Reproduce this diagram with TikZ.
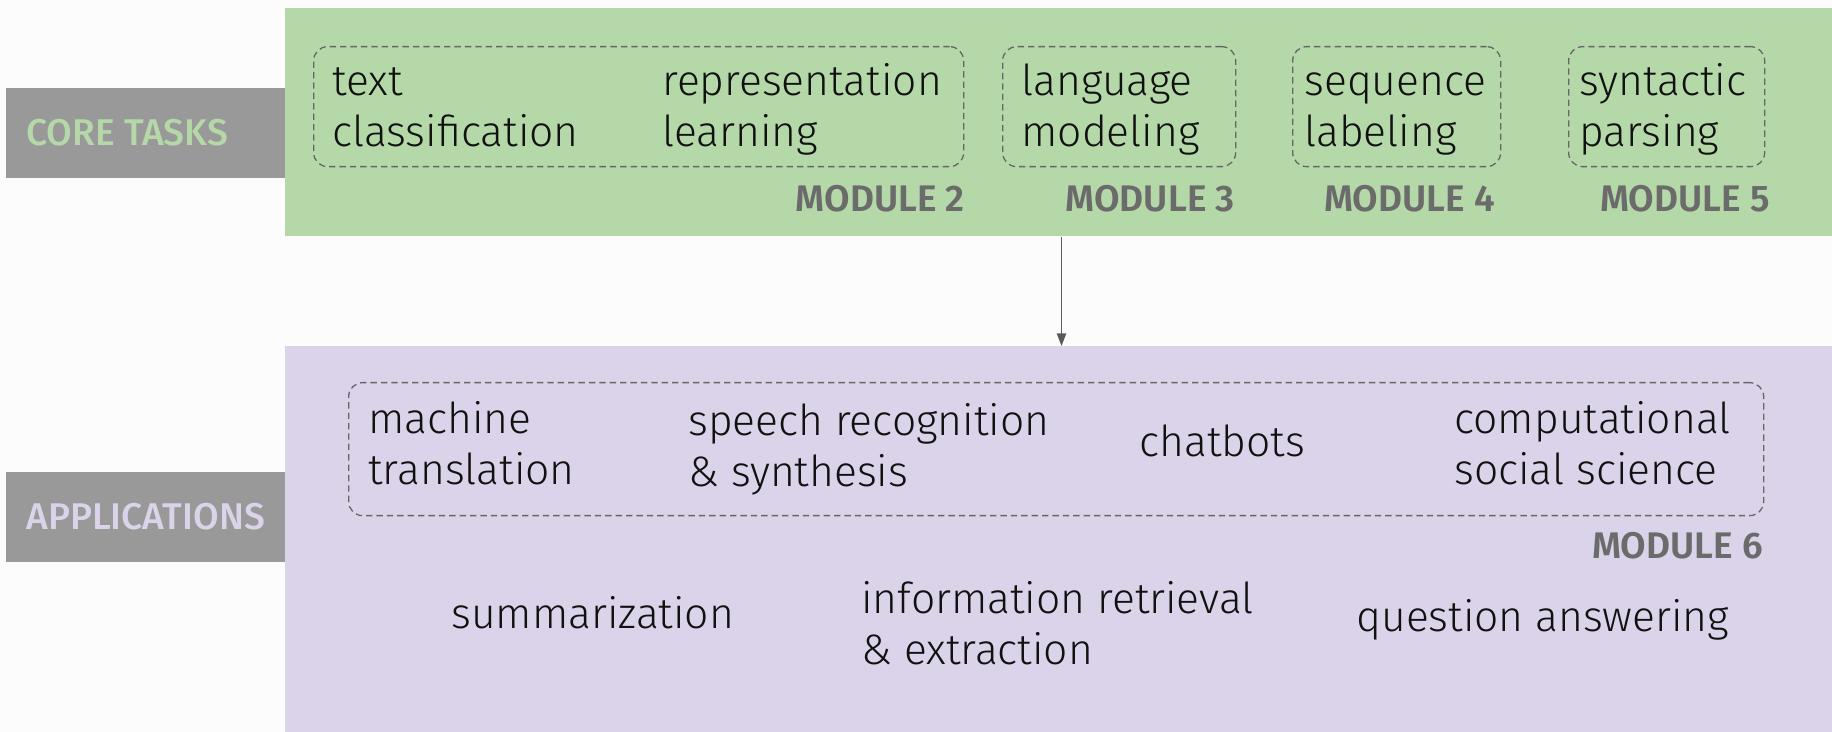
\documentclass[tikz,border=0pt]{standalone}
\usepackage{fontspec}
\setmainfont{Fira Sans}[UprightFont={* Light}, BoldFont={* SemiBold}]
\newfontfamily\tagfont{Fira Sans}[UprightFont={* Medium}]
\usetikzlibrary{arrows.meta}

\definecolor{pagebg}{HTML}{FCFCFC}
\definecolor{coregreen}{HTML}{B5D8A8}
\definecolor{applilac}{HTML}{DBD3E9}
\definecolor{taggray}{HTML}{999999}
\definecolor{modgray}{HTML}{6B6B6B}
\definecolor{dashgray}{HTML}{666666}
\definecolor{arrowgray}{HTML}{5A5A5A}
\definecolor{inkblack}{HTML}{111111}

% struts on the first and last line give every label the same box height
\newcommand{\oneline}[1]{\strut#1\strut}
\newcommand{\twolines}[2]{\strut#1\\#2\strut}

\tikzset{
  band/.style={draw=none, inner sep=0pt, anchor=north west},
  tagbox/.style={draw=none, fill=taggray, inner sep=0pt, anchor=north west,
    minimum width=139.5pt, minimum height=45pt},
  tagtext/.style={anchor=west, inner sep=0pt, font=\tagfont\fontsize{18.6}{22}\selectfont},
  groupbox/.style={draw=dashgray, line width=0.65pt, dash pattern=on 3.2pt off 2pt,
    rounded corners=7pt, inner sep=0pt, anchor=north west},
  % top of the strut box sits 0.7 baselineskip above the first baseline
  task/.style={anchor=north west, inner sep=0pt, align=left, text=inkblack,
    font=\fontsize{21.3}{25.5}\selectfont},
  modlabel/.style={anchor=east, inner sep=0pt, text=modgray,
    font=\bfseries\fontsize{18.5}{22}\selectfont},
  flow/.style={draw=arrowgray, line width=0.9pt, -{Triangle[length=6.3pt,width=4.6pt]}}
}

\begin{document}
\begin{tikzpicture}[x=0.5pt, y=-0.5pt]
  % page
  \fill[pagebg] (0,0) rectangle (1832,732);
  \useasboundingbox (0,0) rectangle (1832,732);

  % coloured bands
  \node[band, fill=coregreen, minimum width=773.5pt, minimum height=114pt] (core) at (285,8) {};
  \node[band, fill=applilac, minimum width=773.5pt, minimum height=193pt] (apps) at (285,346) {};

  % side tags
  \node[tagbox] (coretag) at (6,88) {};
  \node[tagtext, text=coregreen] (coretagtext) at (26,133) {CORE TASKS};
  \node[tagbox] (appstag) at (6,472) {};
  \node[tagtext, text=applilac] (appstagtext) at (26,517) {APPLICATIONS};

  % core task groups
  \node[groupbox, minimum width=325pt, minimum height=60pt] (m2box) at (313,46) {};
  \node[groupbox, minimum width=116.5pt, minimum height=60pt] (m3box) at (1002,46) {};
  \node[groupbox, minimum width=104pt, minimum height=60pt] (m4box) at (1292,46) {};
  \node[groupbox, minimum width=98pt, minimum height=60pt] (m5box) at (1568,46) {};

  \node[task] (textcls) at (332,59.3) {\twolines{text}{classification}};
  \node[task] (reprl) at (662,59.3) {\twolines{representation}{learning}};
  \node[task] (lm) at (1021,59.3) {\twolines{language}{modeling}};
  \node[task] (seqlab) at (1304,59.3) {\twolines{sequence}{labeling}};
  \node[task] (parse) at (1579,59.3) {\twolines{syntactic}{parsing}};

  \node[modlabel] (mod2) at (965,199) {MODULE 2};
  \node[modlabel] (mod3) at (1235,199) {MODULE 3};
  \node[modlabel] (mod4) at (1495,199) {MODULE 4};
  \node[modlabel] (mod5) at (1770,199) {MODULE 5};

  % application group
  \node[groupbox, minimum width=707.5pt, minimum height=66.5pt] (m6box) at (348,382) {};
  \node[task] (mt) at (368,397.5) {\twolines{machine}{translation}};
  \node[task] (speech) at (688,399.5) {\twolines{speech recognition}{\& synthesis}};
  \node[task] (chat) at (1139,420.6) {\oneline{chatbots}};
  \node[task] (css) at (1454,397.8) {\twolines{computational}{social science}};
  \node[modlabel] (mod6) at (1763,546) {MODULE 6};

  % other applications
  \node[task] (summ) at (451,592.8) {\oneline{summarization}};
  \node[task] (ir) at (861,577.3) {\twolines{information retrieval}{\& extraction}};
  \node[task] (qa) at (1356,595.3) {\oneline{question answering}};

  % core tasks feed the applications
  \coordinate (flowx) at (1061.5,0);
  \draw[flow] (core.south -| flowx) -- (apps.north -| flowx);
\end{tikzpicture}
\end{document}
